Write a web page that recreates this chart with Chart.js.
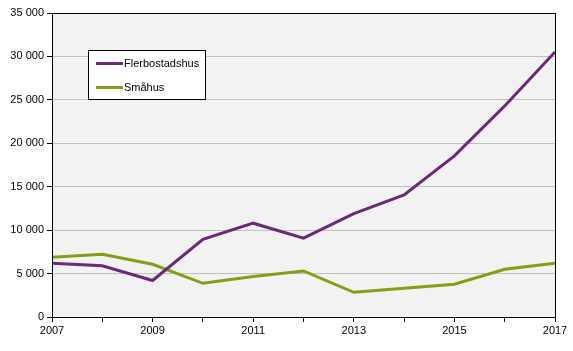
<!DOCTYPE html>
<html>
<head>
<meta charset="utf-8">
<script src="https://cdn.jsdelivr.net/npm/chart.js@4/dist/chart.umd.min.js"></script>
<style>
  html, body { margin: 0; padding: 0; background: #fff; }
  #wrap { width: 573px; height: 351px; }
</style>
</head>
<body>
<div id="wrap"><canvas id="chart" width="573" height="351"></canvas></div>
<script>
// Data
const years = ['2007', '2008', '2009', '2010', '2011', '2012', '2013', '2014', '2015', '2016', '2017'];
const flerbostadshus = [6200, 5900, 4200, 8950, 10800, 9070, 11900, 14050, 18550, 24300, 30500];
const smahus = [6880, 7220, 6070, 3880, 4650, 5300, 2840, 3300, 3770, 5490, 6190];

const fmt = v => String(v).replace(/\B(?=(\d{3})+(?!\d))/g, ' ');

// Plot background, box border and inset legend
const framePlugin = {
    id: 'frame',
    beforeDraw(chart) {
        const { ctx, chartArea: a } = chart;
        ctx.save();
        ctx.fillStyle = '#f2f2f2';
        ctx.fillRect(a.left, a.top, a.right - a.left, a.bottom - a.top);
        ctx.restore();
    },
    afterDraw(chart) {
        const { ctx, chartArea: a } = chart;
        ctx.save();
        ctx.strokeStyle = '#000';
        ctx.lineWidth = 1;
        ctx.strokeRect(a.left + 0.5, a.top + 0.5, a.right - a.left, a.bottom - a.top);

        // legend box
        ctx.fillStyle = '#fff';
        ctx.fillRect(88, 50, 118, 49);
        ctx.strokeRect(88.5, 50.5, 117, 49);
        ctx.font = '11px "Liberation Sans", Arial, sans-serif';
        ctx.textBaseline = 'middle';
        chart.data.datasets.forEach((ds, i) => {
            const y = 63.5 + i * 24;
            ctx.strokeStyle = ds.borderColor;
            ctx.lineWidth = 3;
            ctx.beginPath();
            ctx.moveTo(96, y);
            ctx.lineTo(123, y);
            ctx.stroke();
            ctx.fillStyle = '#000';
            ctx.fillText(ds.label, 124, y);
        });
        ctx.restore();
    }
};

new Chart(document.getElementById('chart'), {
    type: 'line',
    data: {
        labels: years,
        datasets: [{
            label: 'Flerbostadshus',
            data: flerbostadshus,
            borderColor: '#6b2a78',
            borderWidth: 3,
            pointRadius: 0,
            tension: 0
        }, {
            label: 'Småhus',
            data: smahus,
            borderColor: '#82a016',
            borderWidth: 3,
            pointRadius: 0,
            tension: 0
        }]
    },
    options: {
        responsive: false,
        animation: false,
        layout: { padding: { top: 13, right: 18, left: 0, bottom: 0 } },
        plugins: {
            legend: { display: false },
            tooltip: { enabled: false }
        },
        scales: {
            x: {
                offset: false,
                border: { color: '#000' },
                grid: {
                    drawOnChartArea: false,
                    drawTicks: true,
                    tickLength: 5,
                    tickColor: '#000'
                },
                ticks: {
                    autoSkip: false,
                    maxRotation: 0,
                    color: '#000',
                    padding: 2,
                    font: { family: '"Liberation Sans", Arial, sans-serif', size: 11 },
                    callback: (v, i) => i % 2 === 0 ? years[i] : ''
                },
                afterFit: s => { s.height = 34; }
            },
            y: {
                min: 0,
                max: 35000,
                border: { color: '#000' },
                grid: {
                    color: '#c0c0c0',
                    tickColor: '#000',
                    tickLength: 5
                },
                ticks: {
                    stepSize: 5000,
                    color: '#000',
                    padding: 3,
                    font: { family: '"Liberation Sans", Arial, sans-serif', size: 11 },
                    callback: v => fmt(v)
                },
                afterFit: s => { s.width = 52; }
            }
        }
    },
    plugins: [framePlugin]
});
</script>
</body>
</html>
